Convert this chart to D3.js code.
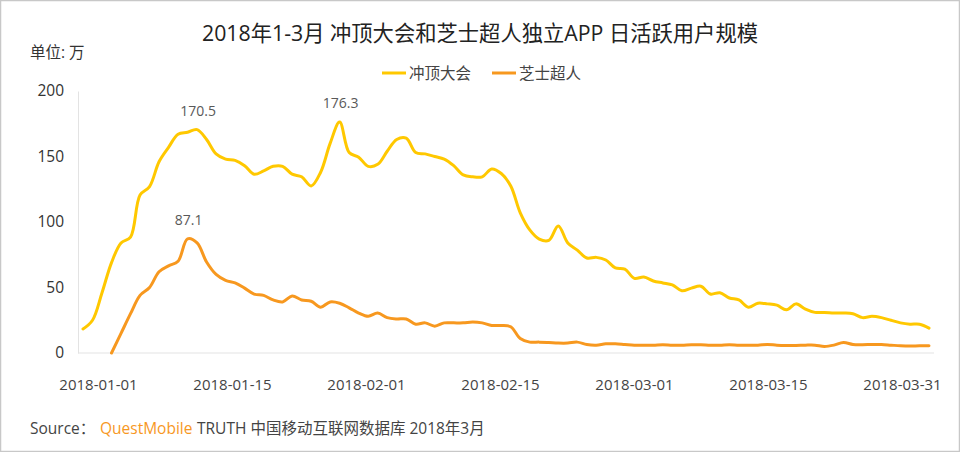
<!DOCTYPE html>
<html>
<head>
<meta charset="utf-8">
<script src="https://d3js.org/d3.v7.min.js"></script>
<style>
  html, body { margin: 0; padding: 0; background: #fff; }
  text { font-family: "Open Sans", "Noto Sans CJK SC", sans-serif; }
</style>
</head>
<body>
<script>
// daily active users (in 10k), 2018-01-01 to 2018-03-31
const chongding = [18.3, 25, 46, 69, 84, 88.5, 120.6, 127, 146, 157, 167, 168.5, 170.5, 163, 152, 148, 147, 143,
  136.5, 139, 142.5, 142.5, 136.5, 134.5, 127.5, 138, 160, 176.3, 153, 149.5, 142.5, 144, 154, 163, 164, 153,
  152, 150, 148, 143, 136, 134.5, 134.5, 140.5, 137, 127.5, 107, 94, 87, 86, 97, 84, 78.5, 72.5, 73, 71,
  65, 64, 57, 58, 55, 53.5, 52, 47.5, 49.5, 51, 45, 46, 42, 40.5, 35, 38, 37.5, 36.5, 33, 37.5,
  33.5, 31, 31, 30.5, 30.5, 30, 27, 28, 27, 25, 23, 22, 22, 19];
const zhishi = [null, null, null, 0, 15, 30, 44, 50, 62, 66.5, 70, 87.1, 84, 69.5, 60, 55.5, 53.5, 49.5,
  45, 44, 40.5, 39, 43.5, 40.5, 39.5, 35, 39, 38, 34.5, 30.5, 28, 30.5, 27, 26, 26, 22,
  23, 20.5, 23, 23, 23, 23.7, 23, 21, 21, 20, 11, 8.3, 8.3, 8, 7.6, 7.6, 8.3, 6.5, 6, 7,
  7, 6.5, 6, 6, 6, 6.3, 6, 6, 6.3, 6.3, 6, 6, 6.3, 6, 6, 6, 6.5, 6, 5.8, 5.8,
  6, 6, 5, 6, 8, 6.5, 6.3, 6.5, 6.5, 6, 5.5, 5.3, 5.5, 5.5];

const w = 960;
const h = 452;
const margin = { top: 91, right: 26, bottom: 99, left: 78 };

const svg = d3.select('body')
  .append('svg')
  .attr('width', w)
  .attr('height', h)
  .style('display', 'block');

// outer frame
svg.append('rect')
  .attr('x', 0.5).attr('y', 0.5)
  .attr('width', w - 1).attr('height', h - 1)
  .style('fill', '#fff')
  .style('stroke', '#c8c8c8')
  .style('stroke-width', 1.5);

// scales
const xScale = d3.scaleLinear().domain([0, 89]).range([83, 929]);
const yScale = d3.scaleLinear().domain([0, 200]).range([h - margin.bottom, margin.top]);

// the date labels sit evenly spaced and don't line up with the days
const labels = ['2018-01-01', '2018-01-15', '2018-02-01', '2018-02-15', '2018-03-01', '2018-03-15', '2018-03-31'];
const labelScale = d3.scalePoint().domain(labels).range([98, 902]);

// axes
const yAxis = d3.axisLeft(yScale).tickValues([0, 50, 100, 150, 200]).tickSize(0).tickPadding(14);
const yG = svg.append('g').attr('transform', `translate(${margin.left}, 0)`).call(yAxis);
yG.selectAll('text').style('font-size', '15.5px').style('fill', '#333');
yG.select('.domain').style('stroke', '#e3e3e3');

const xAxis = d3.axisBottom(labelScale).tickSize(0).tickPadding(26);
const xG = svg.append('g').attr('transform', `translate(0, ${h - margin.bottom})`).call(xAxis);
xG.selectAll('text').style('font-size', '15px').style('fill', '#444');
xG.select('.domain').remove();
svg.append('line')
  .attr('x1', margin.left).attr('x2', w - margin.right)
  .attr('y1', yScale(0)).attr('y2', yScale(0))
  .style('stroke', '#e3e3e3');

// lines
const line = d3.line()
  .defined((d) => d !== null)
  .x((d, i) => xScale(i))
  .y((d) => yScale(d))
  .curve(d3.curveCatmullRom.alpha(0.5));

const series = [
  { name: '冲顶大会', values: chongding, color: '#ffc800' },
  { name: '芝士超人', values: zhishi, color: '#f7981f' },
];

series.forEach((s) => {
  svg.append('path')
    .attr('d', line(s.values))
    .style('fill', 'none')
    .style('stroke', s.color)
    .style('stroke-width', 3)
    .style('stroke-linecap', 'round');
});

// peak labels
const peaks = [
  { s: chongding, i: 12, dx: 1, dy: -14 },
  { s: chongding, i: 27, dx: 1, dy: -14 },
  { s: zhishi, i: 11, dx: 1, dy: -14 },
];
svg.selectAll('.peak')
  .data(peaks)
  .enter()
  .append('text')
  .attr('class', 'peak')
  .attr('x', (d) => xScale(d.i) + d.dx)
  .attr('y', (d) => yScale(d.s[d.i]) + d.dy)
  .attr('text-anchor', 'middle')
  .style('font-size', '14px')
  .style('fill', '#595959')
  .text((d) => d.s[d.i].toFixed(1));

// title and unit
svg.append('text')
  .attr('x', 480).attr('y', 41)
  .attr('text-anchor', 'middle')
  .style('font-size', '21.3px')
  .style('fill', '#222')
  .text('2018年1-3月 冲顶大会和芝士超人独立APP 日活跃用户规模');

svg.append('text')
  .attr('x', 30).attr('y', 58)
  .style('font-size', '15.5px')
  .style('fill', '#333')
  .text('单位: 万');

// legend
const legendX = [382, 492];
series.forEach((s, i) => {
  svg.append('line')
    .attr('x1', legendX[i]).attr('x2', legendX[i] + 24)
    .attr('y1', 73).attr('y2', 73)
    .style('stroke', s.color)
    .style('stroke-width', 3);
  svg.append('text')
    .attr('x', legendX[i] + 27).attr('y', 79)
    .style('font-size', '15.5px')
    .style('fill', '#444')
    .text(s.name);
});

// source line
const source = svg.append('text')
  .attr('y', 434)
  .style('font-size', '15.5px')
  .style('fill', '#444');
source.append('tspan').attr('x', 30).text('Source：');
source.append('tspan').attr('x', 100).style('fill', '#f7981f').text('QuestMobile');
source.append('tspan').attr('x', 197).text('TRUTH 中国移动互联网数据库 2018年3月');
</script>
</body>
</html>
